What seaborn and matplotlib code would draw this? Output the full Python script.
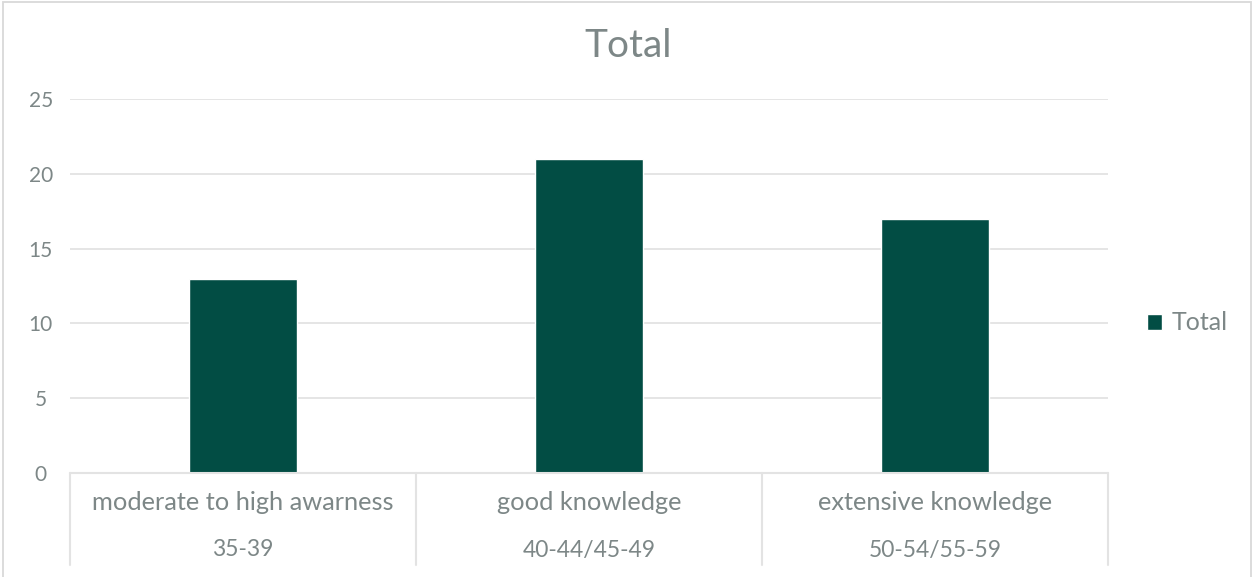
import matplotlib
matplotlib.use("Agg")
import matplotlib.pyplot as plt
import matplotlib.transforms as mtransforms
from matplotlib.patches import Rectangle
import seaborn as sns
import pandas as pd

# Data
categories = ["moderate to high awarness", "good knowledge", "extensive knowledge"]
score_ranges = ["35-39", "40-44/45-49", "50-54/55-59"]
totals = [13, 21, 17]
series_name = "Total"
y_ticks = [0, 5, 10, 15, 20, 25]

BAR_COLOR = "#024D44"
TEXT_COLOR = "#7D8787"
GRID_COLOR = "#E3E3E3"

sns.set_theme(style="white")
plt.rcParams["font.family"] = ["Lato", "DejaVu Sans"]

W, H = 1252, 577
fig = plt.figure(figsize=(W / 100, H / 100), dpi=100)
fig.patch.set_facecolor("white")

# Chart frame
fig.patches.append(Rectangle((3 / W, -0.05), (1251 - 3) / W, 1 - 2 / H + 0.05,
                             transform=fig.transFigure, fill=False,
                             edgecolor="#D9D9D9", linewidth=1.3))

left, right = 70 / W, 1108 / W
bottom, top = (H - 473) / H, (H - 99) / H
ax = fig.add_axes([left, bottom, right - left, top - bottom])

df = pd.DataFrame({"category": categories, "value": totals})
sns.barplot(data=df, x="category", y="value", color=BAR_COLOR, width=0.313,
            saturation=1, ax=ax, zorder=3)

ax.set_xlim(-0.5, len(categories) - 0.5)
ax.set_ylim(0, 25)
ax.set_yticks(y_ticks)
ax.set_yticklabels([str(t) for t in y_ticks], color=TEXT_COLOR, fontsize=15)
ax.tick_params(axis="y", length=0, pad=21)
for lbl in ax.get_yticklabels():
    lbl.set_horizontalalignment("center")
ax.set_xticks([])
ax.set_xlabel("")
ax.set_ylabel("")
for s in ax.spines.values():
    s.set_visible(False)
ax.grid(axis="y", color=GRID_COLOR, linewidth=1.3, zorder=0)
ax.set_axisbelow(True)

# Two-level category axis
trans = mtransforms.blended_transform_factory(ax.transData, ax.transAxes)
ax_h = 473 - 99
ax.plot([-0.5, len(categories) - 0.5], [0, 0], transform=trans,
        color=GRID_COLOR, linewidth=1.5, clip_on=False, zorder=4)
for xb in [i - 0.5 for i in range(len(categories) + 1)]:
    ax.plot([xb, xb], [0, -(565 - 473) / ax_h], transform=trans,
            color=GRID_COLOR, linewidth=1.5, clip_on=False)
for i, (c, r) in enumerate(zip(categories, score_ranges)):
    ax.text(i, -(503 - 473) / ax_h, c, transform=trans, ha="center",
            va="center", color=TEXT_COLOR, fontsize=18.3)
    ax.text(i, -(550 - 473) / ax_h, r, transform=trans, ha="center",
            va="center", color=TEXT_COLOR, fontsize=16.5)

# Title
fig.text(628 / W, 1 - 46 / H, series_name, ha="center", va="center",
         color=TEXT_COLOR, fontsize=28)

# Legend
handle = Rectangle((0, 0), 1, 1, facecolor=BAR_COLOR)
fig.legend([handle], [series_name], loc="center left",
           bbox_to_anchor=(1124 / W, 1 - 323 / H), frameon=False,
           handlelength=0.6, handleheight=0.6, handletextpad=0.4,
           fontsize=18, labelcolor=TEXT_COLOR)

fig.savefig("out.png", dpi=100, facecolor="white")
